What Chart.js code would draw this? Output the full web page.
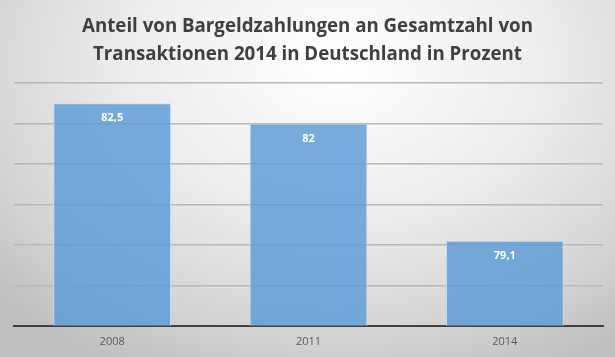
<!DOCTYPE html>
<html>
<head>
<meta charset="utf-8">
<script src="https://cdn.jsdelivr.net/npm/chart.js@4/dist/chart.umd.min.js"></script>
<style>
  html, body { margin: 0; padding: 0; }
  body { width: 615px; height: 357px; overflow: hidden; }
  #wrap {
    width: 615px; height: 357px;
    background: radial-gradient(ellipse 75% 95% at 55% 18%, #ffffff 0%, #ededed 45%, #d4d4d4 80%, #c0c0c0 100%);
  }
</style>
</head>
<body>
<div id="wrap"><canvas id="c" width="615" height="357"></canvas></div>
<script>
const titleLines = ["Anteil von Bargeldzahlungen an Gesamtzahl von", "Transaktionen 2014 in Deutschland in Prozent"];
const categories = ["2008", "2011", "2014"];
const values = [82.5, 82, 79.1];
const yMin = 77, yMax = 83, yStep = 1;

const fmt = v => v.toLocaleString('de-DE');

const labelPlugin = {
  id: 'barLabels',
  afterDatasetsDraw(chart) {
    const ctx = chart.ctx;
    const meta = chart.getDatasetMeta(0);
    ctx.save();
    ctx.font = 'bold 11px "Open Sans", sans-serif';
    ctx.fillStyle = '#ffffff';
    ctx.textAlign = 'center';
    ctx.textBaseline = 'middle';
    meta.data.forEach((bar, i) => {
      ctx.fillText(fmt(values[i]), bar.x, bar.y + 15);
    });
    ctx.restore();
  }
};

const titlePlugin = {
  id: 'placedTitle',
  afterDraw(chart) {
    const ctx = chart.ctx;
    ctx.save();
    ctx.font = 'bold 18.7px "Open Sans", sans-serif';
    ctx.fillStyle = '#404040';
    ctx.textAlign = 'center';
    ctx.textBaseline = 'alphabetic';
    const cx = chart.width / 2;
    const baselines = [32, 60];
    titleLines.forEach((t, i) => ctx.fillText(t, cx, baselines[i]));
    ctx.restore();
  }
};

new Chart(document.getElementById('c'), {
  type: 'bar',
  data: {
    labels: categories,
    datasets: [{
      data: values,
      backgroundColor: 'rgba(91,155,213,0.82)',
      borderColor: 'rgba(200,222,242,0.9)',
      borderWidth: 1,
      categoryPercentage: 0.6,
      barPercentage: 1.0
    }]
  },
  options: {
    responsive: false,
    animation: false,
    layout: { padding: { left: 14, right: 12, top: 83, bottom: 0 } },
    plugins: {
      legend: { display: false },
      tooltip: { enabled: false },
      title: { display: false }
    },
    scales: {
      x: {
        grid: { display: false, drawTicks: false, tickLength: 0 },
        border: { display: true, color: '#404040', width: 2 },
        ticks: { color: '#595959', font: { family: '"Open Sans", sans-serif', size: 11 }, padding: 9 }
      },
      y: {
        min: yMin, max: yMax,
        ticks: { display: false, stepSize: yStep },
        grid: { color: '#b8b8b8', lineWidth: 1.5, drawTicks: false },
        border: { display: false }
      }
    }
  },
  plugins: [labelPlugin, titlePlugin]
});
</script>
</body>
</html>
